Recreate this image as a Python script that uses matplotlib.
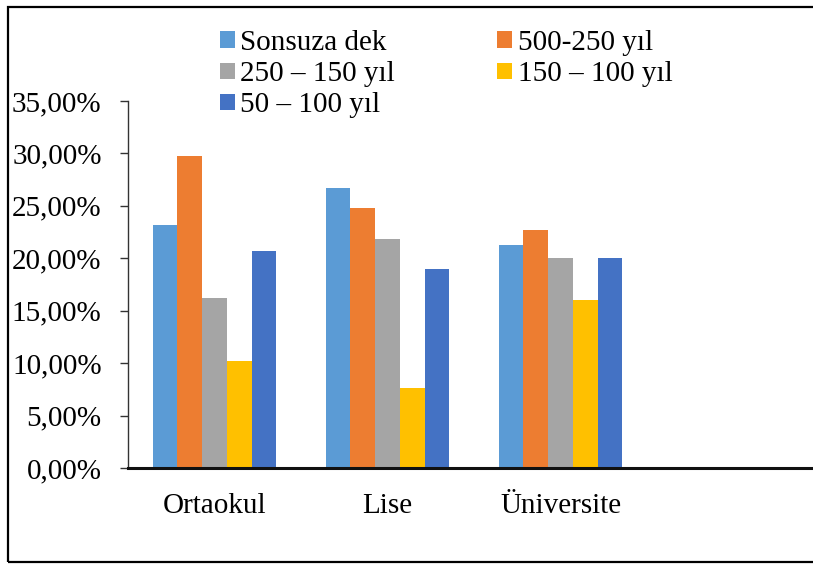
import matplotlib
matplotlib.use("Agg")
import matplotlib.pyplot as plt
from matplotlib.patches import Rectangle
import numpy as np

# Education levels (the fourth slot on the axis is left empty)
categories = ["Ortaokul", "Lise", "Üniversite", ""]

series_names = ["Sonsuza dek", "500-250 yıl", "250 – 150 yıl", "150 – 100 yıl", "50 – 100 yıl"]
sonsuza = [23.2, 26.7, 21.3]
y500_250 = [29.8, 24.8, 22.7]
y250_150 = [16.2, 21.8, 20.0]
y150_100 = [10.2, 7.6, 16.0]
y50_100 = [20.7, 19.0, 20.0]

ytick_values = [0, 5, 10, 15, 20, 25, 30, 35]
ytick_labels = ["0,00%", "5,00%", "10,00%", "15,00%", "20,00%", "25,00%", "30,00%", "35,00%"]

colors = ["#5B9BD5", "#ED7D31", "#A5A5A5", "#FFC000", "#4472C4"]

plt.rcParams["font.family"] = ["Liberation Serif", "DejaVu Serif"]
FS = 21

W, H = 813, 565
fig = plt.figure(figsize=(W / 100, H / 100), dpi=100)

# axes placed in pixel terms: x from 128 to 820, y from 468 (0%) to 101 (35%)
ax_left, ax_right = 128, 820
ax_bottom, ax_top = 468, 101
ax = fig.add_axes([ax_left / W, (H - ax_bottom) / H,
                   (ax_right - ax_left) / W, (ax_bottom - ax_top) / H])

all_series = [sonsuza, y500_250, y250_150, y150_100, y50_100]
n = len(all_series)
bar_w = 1.0 / 7.0  # 200% gap width
x = np.arange(3)
bars = []
for i, (vals, col) in enumerate(zip(all_series, colors)):
    offs = (i - (n - 1) / 2) * bar_w
    b = ax.bar(x + offs, vals, width=bar_w, color=col, edgecolor="none", zorder=2)
    bars.append(b)

ax.set_xlim(-0.5, 3.5)
ax.set_ylim(0, 35)
ax.set_xticks(np.arange(len(categories)))
ax.set_xticklabels(categories, fontsize=FS)
ax.set_yticks(ytick_values)
ax.set_yticklabels(ytick_labels, fontsize=FS)

ax.tick_params(axis="x", length=0, pad=18)
ax.tick_params(axis="y", length=6, width=1.0, color="#333333", pad=13, direction="out")

for s in ["top", "right"]:
    ax.spines[s].set_visible(False)
ax.spines["left"].set_color("#333333")
ax.spines["left"].set_linewidth(1.0)
ax.spines["bottom"].set_color("#111111")
ax.spines["bottom"].set_linewidth(2.2)
ax.spines["bottom"].set_zorder(3)

# legend laid out row by row (two columns)
order = [0, 2, 4, 1, 3]
handles = [bars[i] for i in order]
labels = [series_names[i] for i in order]
fig.legend(handles, labels, loc="upper left",
           bbox_to_anchor=(220 / W, 1 - 30 / H), bbox_transform=fig.transFigure,
           ncol=2, frameon=False, fontsize=FS, borderpad=0, borderaxespad=0,
           handlelength=0.5, handleheight=0.5, handletextpad=0.2,
           columnspacing=3.5, labelspacing=0.18)

# outer frame
fig.add_artist(Rectangle((8 / W, 3 / H), 1.2, 1 - 10 / H, transform=fig.transFigure,
                         fill=False, edgecolor="black", linewidth=1.6, clip_on=False))

fig.savefig("out.png", dpi=100)
